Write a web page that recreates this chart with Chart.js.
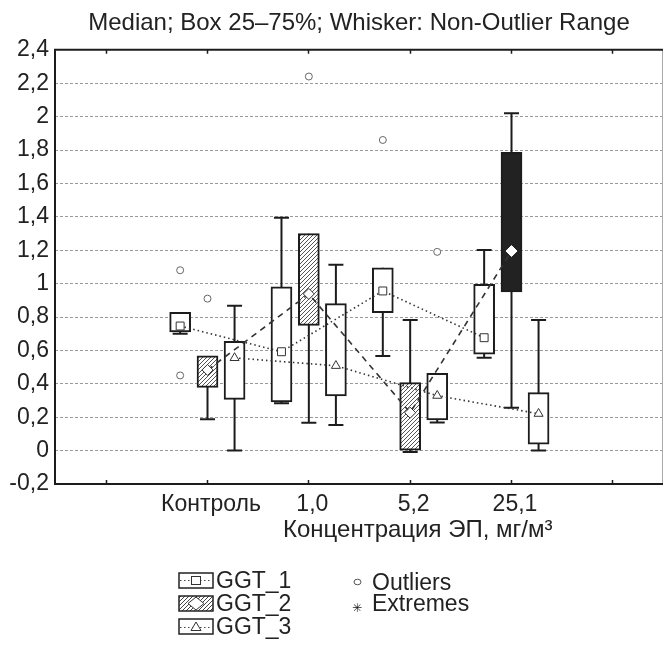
<!DOCTYPE html>
<html lang="ru">
<head>
  <meta charset="UTF-8">
  <title>GGT box plot</title>
  <script src="https://cdn.jsdelivr.net/npm/chart.js@4"></script>
  <style>
    html, body { margin: 0; padding: 0; background: #fff; }
    body { font-family: "Liberation Sans", Arial, sans-serif; color: #222; }
    #wrap { position: relative; width: 664px; height: 652px; overflow: hidden; }
    #chart { position: absolute; left: 0; top: 0; }
    .xtitle { position: absolute; left: 283px; top: 516px; font-size: 24px; line-height: 26px; white-space: nowrap; }
    .lg { position: absolute; font-size: 23px; line-height: 24px; white-space: nowrap; }
    .ico { position: absolute; left: 178px; }
  </style>
</head>
<body>
  <div id="wrap">
    <canvas id="chart" width="664" height="652"></canvas>
    <div class="xtitle">Концентрация ЭП, мг/м³</div>

    <svg class="ico" style="top:572px" width="36" height="17">
      <rect x="1" y="1" width="34" height="15" fill="#fff" stroke="#222" stroke-width="1.5"/>
      <line x1="2" y1="8.5" x2="34" y2="8.5" stroke="#444" stroke-dasharray="1.5,2.5"/>
      <rect x="13.5" y="4.5" width="9" height="8" fill="#fff" stroke="#333"/>
    </svg>
    <div class="lg" style="left:216px;top:568px">GGT_1</div>

    <svg class="ico" style="top:595px" width="36" height="17">
      <defs>
        <pattern id="hl" width="4" height="4" patternUnits="userSpaceOnUse">
          <rect width="4" height="4" fill="#fff"/>
          <path d="M-1,1 l2,-2 M0,4 l4,-4 M3,5 l2,-2" stroke="#444" stroke-width="1"/>
        </pattern>
      </defs>
      <rect x="1" y="1" width="34" height="15" fill="url(#hl)" stroke="#222" stroke-width="1.5"/>
      <polygon points="18,2 26,8.5 18,15 10,8.5" fill="#fff" stroke="#333"/>
    </svg>
    <div class="lg" style="left:216px;top:591px">GGT_2</div>

    <svg class="ico" style="top:618px" width="36" height="17">
      <rect x="1" y="1" width="34" height="15" fill="#fff" stroke="#222" stroke-width="1.5"/>
      <line x1="2" y1="9.5" x2="34" y2="9.5" stroke="#444" stroke-dasharray="1.5,2.5"/>
      <polygon points="18,4 23,12.5 13,12.5" fill="#fff" stroke="#333"/>
    </svg>
    <div class="lg" style="left:216px;top:614px">GGT_3</div>

    <svg style="position:absolute;left:353px;top:578px" width="9" height="8">
      <ellipse cx="4.5" cy="4" rx="3.5" ry="2.8" fill="#fff" stroke="#555"/>
    </svg>
    <div class="lg" style="left:372px;top:570px">Outliers</div>
    <div class="lg" style="left:352px;top:596px;font-size:12px;font-family:'DejaVu Sans'">✳</div>
    <div class="lg" style="left:372px;top:591px">Extremes</div>
  </div>

  <script>
    // categories on the x axis (first and last are empty slots)
    const xLabels = ['', 'Контроль', '1,0', '5,2', '25,1', ''];
    const groupX = [2, 3, 4, 5];

    // GGT_1
    const ggt1Min = [0.70, 0.283, 0.566, 0.556];
    const ggt1Q1 = [0.71, 0.291, 0.826, 0.578];
    const ggt1Med = [0.746, 0.592, 0.956, 0.676];
    const ggt1Q3 = [0.828, 0.981, 1.095, 0.996];
    const ggt1Max = [0.828, 1.395, 1.095, 1.201];
    const ggt1Out = [[2, 1.08], [2, 0.45], [4, 1.86]];

    // GGT_2
    const ggt2Min = [0.187, 0.167, -0.008, 0.257];
    const ggt2Q1 = [0.379, 0.75, 0.0, 0.95];
    const ggt2Med = [0.483, 0.938, 0.227, 1.195];
    const ggt2Q3 = [0.567, 1.299, 0.407, 1.786];
    const ggt2Max = [0.567, 1.299, 0.782, 2.02];
    const ggt2Out = [[2, 0.91], [3, 2.24]];

    // GGT_3
    const ggt3Min = [0.0, 0.153, 0.169, 0.0];
    const ggt3Q1 = [0.307, 0.327, 0.183, 0.038];
    const ggt3Med = [0.555, 0.508, 0.329, 0.221];
    const ggt3Q3 = [0.654, 0.88, 0.463, 0.347];
    const ggt3Max = [0.868, 1.113, 0.463, 0.782];
    const ggt3Out = [[4, 1.19]];

    const ink = '#1c1c1c';
    Chart.defaults.font.family = '"Liberation Sans", Arial, sans-serif';
    Chart.defaults.color = '#222';

    // hatch pattern for GGT_2 boxes
    function hatch() {
      const c = document.createElement('canvas');
      c.width = 4; c.height = 4;
      const g = c.getContext('2d');
      g.fillStyle = '#fff';
      g.fillRect(0, 0, 4, 4);
      g.strokeStyle = '#555';
      g.lineWidth = 1;
      g.beginPath();
      g.moveTo(-1, 1); g.lineTo(1, -1);
      g.moveTo(0, 4); g.lineTo(4, 0);
      g.moveTo(3, 5); g.lineTo(5, 3);
      g.stroke();
      return g.createPattern(c, 'repeat');
    }
    const hatchFill = hatch();

    function series(off, mins, q1, med, q3, maxs, outs, s) {
      const px = groupX.map(g => g + off);
      const whisk = [];
      const caps = [];
      px.forEach((x, i) => {
        whisk.push({ x: x, y: mins[i] }, { x: x, y: maxs[i] }, { x: x, y: null });
        if (mins[i] < q1[i]) caps.push({ x: x, y: mins[i] });
        if (maxs[i] > q3[i]) caps.push({ x: x, y: maxs[i] });
      });
      return [
        {
          type: 'line', data: whisk, borderColor: ink, borderWidth: 2,
          pointRadius: 0, spanGaps: false, order: 5
        },
        {
          type: 'scatter', data: caps, pointStyle: 'line', pointRadius: 7.5,
          pointBorderWidth: 2, pointBorderColor: ink, order: 5
        },
        {
          type: 'bar', data: px.map((x, i) => ({ x: x, y: [q1[i], q3[i]] })),
          barThickness: 21, grouped: false, borderSkipped: false,
          backgroundColor: s.fill, borderColor: ink, borderWidth: 2, order: 4
        },
        {
          type: 'line', data: px.map((x, i) => ({ x: x, y: med[i] })),
          borderColor: '#333', borderWidth: 1.6, borderDash: s.dash,
          pointRadius: 0, order: 2
        },
        {
          type: 'scatter', data: px.map((x, i) => ({ x: x, y: med[i] })),
          pointStyle: s.marker, pointRadius: s.r, pointBackgroundColor: '#fff',
          pointBorderColor: s.markBorder, pointBorderWidth: 1, order: 0
        },
        {
          type: 'scatter', data: outs.map(o => ({ x: o[0] + off, y: o[1] })),
          pointStyle: 'circle', pointRadius: 3.5, pointBackgroundColor: '#fff',
          pointBorderColor: '#666', pointBorderWidth: 1, order: 0
        }
      ];
    }

    const datasets = [].concat(
      series(-0.265, ggt1Min, ggt1Q1, ggt1Med, ggt1Q3, ggt1Max, ggt1Out,
        { fill: '#fff', dash: [1.5, 3], marker: 'rect', r: 5.6, markBorder: '#333' }),
      series(0.005, ggt2Min, ggt2Q1, ggt2Med, ggt2Q3, ggt2Max, ggt2Out,
        { fill: [hatchFill, hatchFill, hatchFill, '#222'], dash: [6, 5], marker: 'rectRot', r: 5.5,
          markBorder: ['#333', '#333', '#333', '#fff'] }),
      series(0.272, ggt3Min, ggt3Q1, ggt3Med, ggt3Q3, ggt3Max, ggt3Out,
        { fill: '#fff', dash: [1.5, 3], marker: 'triangle', r: 5.2, markBorder: '#333' })
    );

    // frame and inward category ticks
    const framePlugin = {
      id: 'frame',
      afterDraw(chart) {
        const { ctx, chartArea: a } = chart;
        const xs = chart.scales.x;
        ctx.save();
        ctx.strokeStyle = '#aaa';
        ctx.lineWidth = 1;
        ctx.beginPath();
        ctx.moveTo(a.right - 0.5, a.top); ctx.lineTo(a.right - 0.5, a.bottom);
        ctx.stroke();
        ctx.strokeStyle = ink;
        ctx.lineWidth = 2;
        ctx.beginPath();
        ctx.moveTo(a.left, a.top); ctx.lineTo(a.right, a.top);
        ctx.moveTo(a.left, a.top - 1); ctx.lineTo(a.left, a.bottom + 1);
        ctx.moveTo(a.left, a.bottom); ctx.lineTo(a.right, a.bottom);
        ctx.stroke();
        ctx.lineWidth = 1.5;
        ctx.beginPath();
        xs.ticks.forEach(t => {
          const x = Math.round(xs.getPixelForValue(t.value)) + 0.5;
          ctx.moveTo(x, a.bottom); ctx.lineTo(x, a.bottom - 4);
          ctx.moveTo(x, a.top); ctx.lineTo(x, a.top + 4);
        });
        ctx.stroke();
        ctx.restore();
      }
    };

    new Chart(document.getElementById('chart'), {
      type: 'bar',
      data: { datasets: datasets },
      plugins: [framePlugin],
      options: {
        responsive: false,
        animation: false,
        layout: { autoPadding: false, padding: { right: 1 } },
        plugins: {
          legend: { display: false },
          tooltip: { enabled: false },
          title: {
            display: true,
            fullSize: false,
            text: 'Median; Box 25–75%; Whisker: Non-Outlier Range',
            color: '#222',
            font: { size: 24, weight: 'normal' },
            padding: { top: 9, bottom: 12 }
          }
        },
        scales: {
          x: {
            type: 'linear',
            min: 0.5,
            max: 6.5,
            offset: false,
            afterBuildTicks: s => { s.ticks = [1, 2, 3, 4, 5, 6].map(v => ({ value: v })); },
            afterFit: s => { s.height = 168; s.paddingLeft = 0; s.paddingRight = 0; },
            grid: { display: false, drawTicks: false },
            border: { display: false },
            ticks: {
              autoSkip: false,
              maxRotation: 0,
              padding: 7,
              labelOffset: 4,
              color: '#222',
              font: { size: 23 },
              callback: v => xLabels[v - 1]
            }
          },
          y: {
            min: -0.2,
            max: 2.4,
            afterFit: s => { s.width = 55; },
            border: { display: false, dash: [3, 2] },
            grid: {
              drawTicks: false,
              color: c => (c.tick && (c.tick.value < -0.1 || c.tick.value > 2.3)) ? 'rgba(0,0,0,0)' : '#9a9a9a',
              lineWidth: 1
            },
            ticks: {
              stepSize: 0.2,
              padding: 6,
              color: '#222',
              font: { size: 23 },
              callback: v => String(Number(v.toFixed(1))).replace('.', ',')
            }
          }
        }
      }
    });
  </script>
</body>
</html>
